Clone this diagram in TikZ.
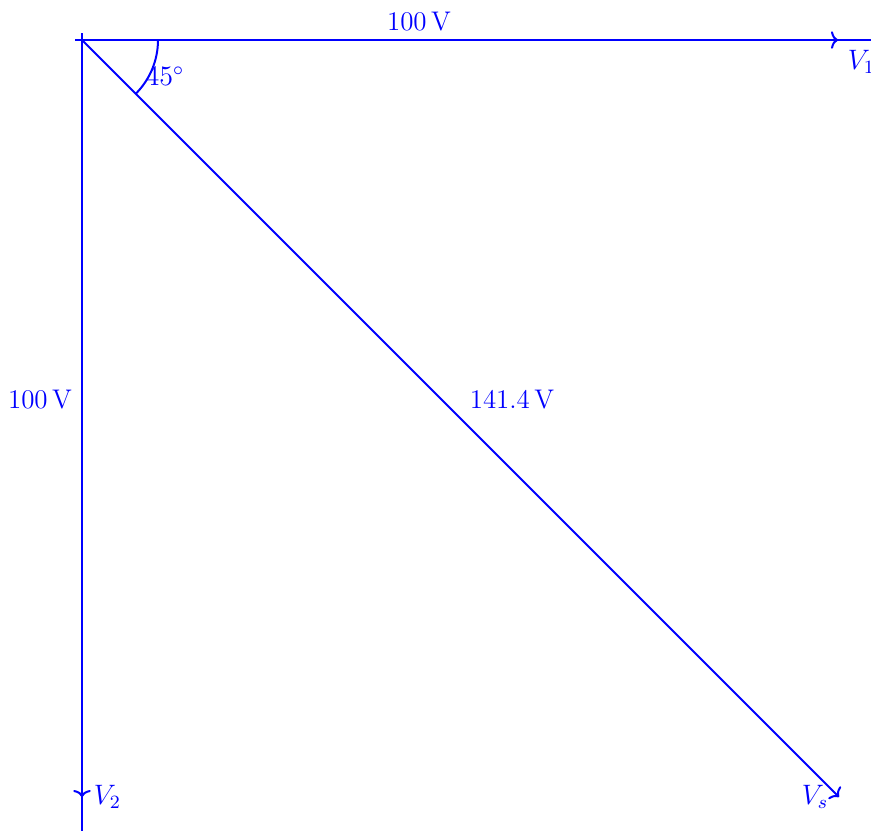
\documentclass[tikz,border=0pt]{standalone}
\usetikzlibrary{arrows.meta}
\begin{document}
\begin{tikzpicture}[x=0.4267pt,y=-0.4267pt,
  >={To[length=3pt,width=7.5pt]},
  vec/.style={blue,line width=0.85pt,->},
  axis/.style={blue,line width=0.85pt},
  lbl/.style={text=blue,inner sep=1pt,font=\fontsize{11.5}{13}\selectfont}]
\useasboundingbox (0,0) rectangle (871,830);
\coordinate (O) at (82,40);
\coordinate (XL) at (75,40);
\coordinate (XR) at (900,40);
\coordinate (YT) at (82,33);
\coordinate (YB) at (82,860);
\coordinate (A) at (838,40);
\coordinate (B) at (82,797);
\coordinate (C) at (839,797);
\draw[axis] (XL) -- (XR);
\draw[axis] (YT) -- (YB);
\draw[vec] (O) -- (A);
\draw[vec] (O) -- (B);
\draw[vec] (O) -- (C);
\draw[axis] ([xshift=76*0.4267pt]O) arc[start angle=0,end angle=-45,radius=76*0.4267pt];
\node[lbl] (t45) at (165,76) {$45^\circ$};
\node[lbl] (tv1) at (419,22) {100\,V};
\node[lbl] (tv2) at (40,400) {100\,V};
\node[lbl] (tvs) at (512,400) {141.4\,V};
\node[lbl,anchor=west] (l1) at (845,62) {$V_1$};
\node[lbl,anchor=west] (l2) at (91,797) {$V_2$};
\node[lbl] (ls) at (815,797) {$V_s$};
\end{tikzpicture}
\end{document}
